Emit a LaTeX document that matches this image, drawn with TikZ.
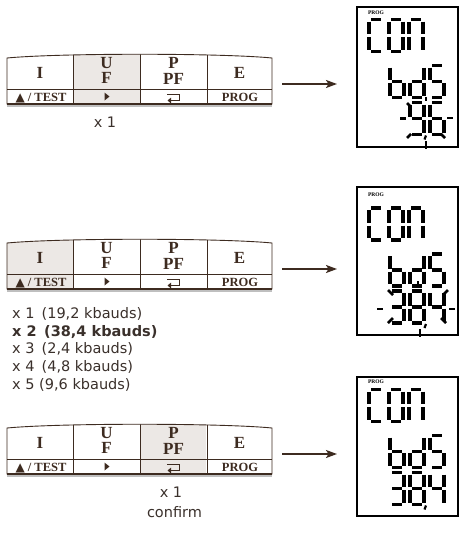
\documentclass[tikz,border=0pt]{standalone}
\usepackage{fontspec}
\setmainfont{Liberation Serif}
\newfontfamily\plainsans{DejaVu Sans}
\usetikzlibrary{arrows.meta}

\definecolor{keybrown}{HTML}{3D2B20}
\definecolor{keyshade}{HTML}{ECE8E5}
\definecolor{notegrey}{HTML}{3A302B}

% seven segment pieces (y grows downwards)
\def\sega{(2,0)--(12,0)}
\def\segb{(14,2)--(14,14.5)}
\def\segc{(14,17.5)--(14,30)}
\def\segd{(2,32)--(12,32)}
\def\sege{(0,17.5)--(0,30)}
\def\segf{(0,2)--(0,14.5)}
\def\segg{(2,16)--(12,16)}
\newcommand{\segdigit}[3]{%
  \begin{scope}[shift={(#1,#2)}]
    \foreach \s in {#3}{\edef\segpath{\csname seg\s\endcsname}\draw[segline] \segpath;}
  \end{scope}}

\begin{document}
\begin{tikzpicture}[x=1pt,y=-1pt,
  segline/.style={line width=3.6pt},
  ray/.style={line width=2.6pt},
  keyline/.style={draw=keybrown,line width=0.9pt},
  keytop/.style={anchor=base,inner sep=0pt,text=keybrown,font=\bfseries\fontsize{17}{17}\selectfont},
  keybot/.style={anchor=base,inner sep=0pt,text=keybrown,font=\bfseries\fontsize{12.5}{13}\selectfont},
  note/.style={anchor=base,inner sep=0pt,text=notegrey,font=\plainsans\fontsize{14.5}{17}\selectfont},
  flow/.style={draw=keybrown,line width=1.6pt,-{Stealth[length=11pt,width=8pt,inset=2.5pt]}},
  dispframe/.style={draw=black,line width=1.2pt},
  proglabel/.style={inner sep=0pt,font=\bfseries\fontsize{5.5}{6}\selectfont}]
\useasboundingbox (0,0) rectangle (461,544);

% the three keypads
\foreach \ky/\kc [count=\n] in {0/2,185/1,370/3}{
\begin{scope}[shift={(0,\ky)}]
  \begin{scope}
    \clip (7,58) .. controls (60,53) and (220,53) .. (272,58) -- (272,104) -- (7,104) -- cycle;
    \fill[keyshade] ({6.5+66.5*(\kc-1)},50) rectangle ++(66.5,60);
    \foreach \vx in {73,140,207} \draw[keyline] (\vx,50) -- (\vx,104);
    \draw[keyline] (7,89) -- (272,89);
  \end{scope}
  \draw[keyline] (7,58) .. controls (60,53) and (220,53) .. (272,58) -- (272,104) -- (7,104) -- cycle;
  \draw[keyline,line width=1.6pt] (7,104) -- (272,104);
  \draw[black!25,line width=1.5pt] (7,105.9) -- (272,105.9);
  \node[keytop] (keyI\n) at (40,78.5) {I};
  \node[keytop] (keyU\n) at (106.5,68) {U};
  \node[keytop] (keyF\n) at (106.5,83.5) {F};
  \node[keytop] (keyP\n) at (173.5,68) {P};
  \node[keytop] (keyPF\n) at (173.5,84) {PF};
  \node[keytop] (keyE\n) at (239.5,78.5) {E};
  \node[keybot] (test\n) at (41,101.5) {{\plainsans\fontsize{12}{12}\selectfont ▲} / TEST};
  \fill[keybrown] (104.5,92.5) -- (109.5,96.5) -- (104.5,100.5) -- cycle;
  \draw[keybrown,line width=1.6pt,-{Triangle[length=3.5pt,width=5.5pt]}]
    (167,94.5) -- (179.5,94.5) -- (179.5,100.5) -- (167.5,100.5);
  \node[keybot] (prog\n) at (240,101.5) {PROG};
  \coordinate (from\n) at (282,84);
  \coordinate (to\n) at (337,84);
  \draw[flow] (from\n) -- (to\n);
\end{scope}}

% notes under the keypads
\node[note] (once1) at (105,127) {x 1};
\node[note,anchor=base west] (baud1) at (12,318) {x 1\, (19,2 kbauds)};
\node[note,anchor=base west,font=\plainsans\bfseries\fontsize{14.5}{17}\selectfont] (baud2) at (12,336) {x 2\, (38,4 kbauds)};
\node[note,anchor=base west] (baud3) at (12,353.5) {x 3\, (2,4 kbauds)};
\node[note,anchor=base west] (baud4) at (12,371) {x 4\, (4,8 kbauds)};
\node[note,anchor=base west] (baud5) at (12,389) {x 5 (9,6 kbauds)};
\node[note] (once3) at (171,497) {x 1};
\node[note] (confirm) at (174.5,517) {confirm};

% displays
\draw[dispframe] (357,7) rectangle (458,147);
\draw[dispframe] (357,187) rectangle (458,335);
\draw[dispframe] (357,377) rectangle (458,516);
\node[proglabel] (lcd1) at (376,13) {PROG};
\node[proglabel] (lcd2) at (376,195) {PROG};
\node[proglabel] (lcd3) at (376,382) {PROG};
\foreach \Y in {19.5,208,389.5}{
  \segdigit{369}{\Y}{a,d,e,f}
  \segdigit{389}{\Y}{a,b,c,d,e,f}
  \segdigit{409}{\Y}{a,b,c,e,f}
  \segdigit{390}{\Y+46}{c,d,e,f,g}
  \segdigit{410}{\Y+46}{b,c,d,e,g}
  \segdigit{430}{\Y+46}{a,c,d,f,g}
}
% 9,6 blinking
\segdigit{410}{102.5}{a,b,c,d,f,g}
\segdigit{430}{102.5}{a,c,d,e,f,g}
\draw[line width=2.2pt] (426,135.5) -- (424.5,139.5);
\draw[ray] (400,118.5) -- (406,118.5);
\draw[ray] (447,118) -- (453,118);
\draw[ray] (407,103) -- (411,107);
\draw[ray] (426,97) -- (426,101);
\draw[ray] (407,138) -- (411,134);
\draw[ray] (441,134) -- (445,138);
\draw[ray] (426,141) -- (426,149);
% 38,4 blinking
\segdigit{390}{291}{a,b,c,d,g}
\segdigit{410}{291}{a,b,c,d,e,f,g}
\segdigit{430}{291}{b,c,f,g}
\draw[line width=2.2pt] (426,324) -- (424.5,328);
\draw[ray] (377,309) -- (383,309);
\draw[ray] (449,309) -- (455,309);
\draw[ray] (388,290) -- (393,295);
\draw[ray] (448,290) -- (443,295);
\draw[ray] (388,323) -- (393,318);
\draw[ray] (441,318) -- (446,323);
\draw[ray] (418,281) -- (418,287);
\draw[ray] (420,329) -- (420,337);
% 38,4 steady
\segdigit{390}{472.5}{a,b,c,d,g}
\segdigit{410}{472.5}{a,b,c,d,e,f,g}
\segdigit{430}{472.5}{b,c,f,g}
\draw[line width=2.2pt] (426,505.5) -- (424.5,509.5);
\end{tikzpicture}
\end{document}
